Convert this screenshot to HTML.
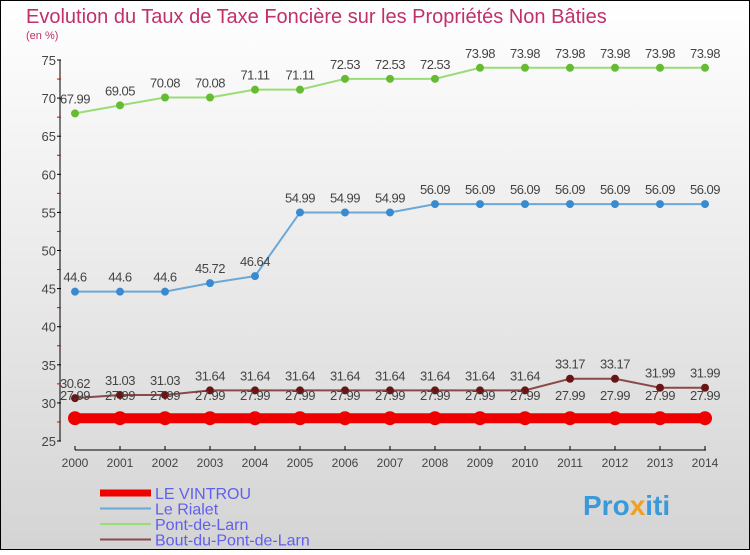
<!DOCTYPE html>
<html><head><meta charset="utf-8"><style>
body{margin:0}
svg text{font-family:"Liberation Sans",sans-serif}
</style></head><body>
<svg width="750" height="550" xmlns="http://www.w3.org/2000/svg">
<defs><linearGradient id="bg" x1="0" y1="0" x2="0" y2="1"><stop offset="0" stop-color="#ffffff"/><stop offset="1" stop-color="#d4d4d4"/></linearGradient></defs>
<rect x="0.5" y="0.5" width="749" height="549" fill="url(#bg)" stroke="#000"/>
<text x="26" y="23" font-size="20" fill="#c0306a">Evolution du Taux de Taxe Foncière sur les Propriétés Non Bâties</text>
<text x="26" y="39" font-size="11" fill="#c0306a">(en %)</text>
<g id="axes"></g>
<g id="series"></g>
<g id="legend"></g>
<text x="583" y="515" font-size="28" font-weight="bold" fill="#3a9ad9">Pro<tspan fill="#f0a020">x</tspan>iti</text>
</svg>
<script>
const years=[2000,2001,2002,2003,2004,2005,2006,2007,2008,2009,2010,2011,2012,2013,2014];
const yTicks=[25,30,35,40,45,50,55,60,65,70,75];
const vintrou=[27.99,27.99,27.99,27.99,27.99,27.99,27.99,27.99,27.99,27.99,27.99,27.99,27.99,27.99,27.99];
const rialet=[44.6,44.6,44.6,45.72,46.64,54.99,54.99,54.99,56.09,56.09,56.09,56.09,56.09,56.09,56.09];
const pontLarn=[67.99,69.05,70.08,70.08,71.11,71.11,72.53,72.53,72.53,73.98,73.98,73.98,73.98,73.98,73.98];
const boutPont=[30.62,31.03,31.03,31.64,31.64,31.64,31.64,31.64,31.64,31.64,31.64,33.17,33.17,31.99,31.99];
const seriesNames=["LE VINTROU","Le Rialet","Pont-de-Larn","Bout-du-Pont-de-Larn"];
const NS="http://www.w3.org/2000/svg";
const xS=i=>75+i*45;
const yS=v=>441-(v-25)*7.62;
function mk(tag,attrs,parent,text){const e=document.createElementNS(NS,tag);for(const k in attrs)e.setAttribute(k,attrs[k]);if(text!==undefined)e.textContent=text;parent.appendChild(e);return e;}
const ax=document.getElementById('axes');
let a=mk('line',{x1:60,y1:60,x2:60,y2:441,stroke:'#000','stroke-width':1},ax);


yTicks.forEach((t,i)=>{
 mk('line',{x1:57,y1:yS(t),x2:61,y2:yS(t),stroke:'#000'},ax);
 if(i<yTicks.length-1){mk('line',{x1:57,y1:yS(t+2.5),x2:61,y2:yS(t+2.5),stroke:'#d00'},ax);}
 const l=mk('text',{x:56,y:yS(t)+5,'font-size':13,fill:'#444','text-anchor':'end'},ax,String(t));
 
 
});
let xa=mk('line',{x1:75,y1:450,x2:706,y2:450,stroke:'#000'},ax);


years.forEach((y,i)=>{
 mk('line',{x1:xS(i),y1:446,x2:xS(i),y2:450,stroke:'#000'},ax);
 const l=mk('text',{x:xS(i),y:467,'font-size':12,fill:'#444','text-anchor':'middle'},ax,String(y));
 
 
});
const sg=document.getElementById('series');
function draw(vals,color,lw,r,dot,name,labelDy){
 const g=mk('g',{},sg);
 
 
 const p=mk('polyline',{points:vals.map((v,i)=>xS(i)+','+yS(v)).join(' '),fill:'none',stroke:color,'stroke-width':lw},g);
 
 
 vals.forEach((v,i)=>{
  const c=mk('circle',{cx:xS(i),cy:yS(v),r:r,fill:dot},g);
  
  
  const t=mk('text',{x:xS(i),y:yS(v)+labelDy,'font-size':13,fill:'#444','text-anchor':'middle','letter-spacing':'-0.5'},g,String(v));
  
  
 });
}
draw(pontLarn,'#99dd77',2,4,'#66bb33','pont-de-larn-series',-10);
draw(rialet,'#6aa8d8',2,4,'#3a8ad0','le-rialet-series',-10);
draw(boutPont,'#8a4a4a',2,4,'#6a1515','bout-du-pont-series',-10);
draw(vintrou,'#ee0000',10,7,'#ee0000','le-vintrou-series',-18);
const lg=document.getElementById('legend');
const lcols=['#ee0000','#6aa8d8','#99dd77','#8a4a4a'];
const lw=[7,2,2,2];
seriesNames.forEach((n,i)=>{
 const y=493+i*15.5;
 const ln=mk('line',{x1:100,y1:y,x2:151,y2:y,stroke:lcols[i],'stroke-width':lw[i]},lg);
 
 
 const t=mk('text',{x:155,y:y+6,'font-size':16,fill:'#6060ee'},lg,n);
 
 
});
</script>
</body></html>
